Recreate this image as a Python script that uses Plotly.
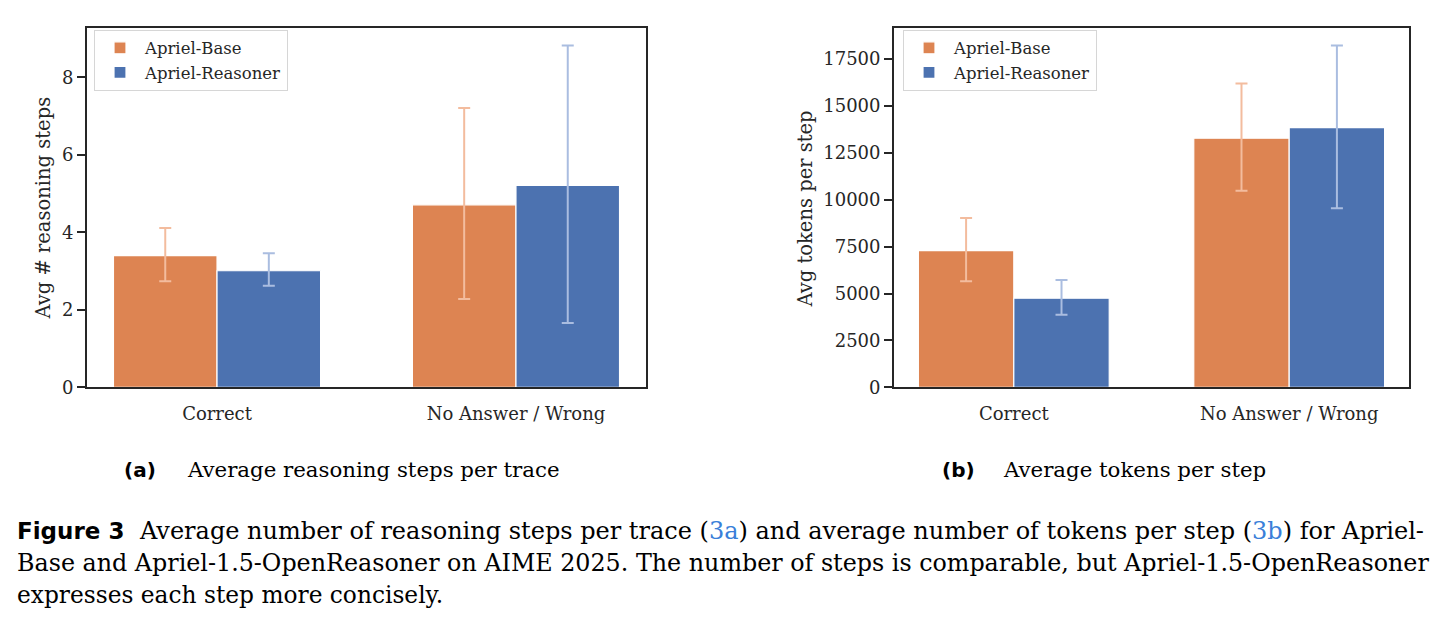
import plotly.graph_objects as go

categories = ["Correct", "No Answer / Wrong"]
series_names = ["Apriel-Base", "Apriel-Reasoner"]

# (a) Average reasoning steps per trace
base_steps = [3.40, 4.71]
base_steps_lo = [2.74, 2.28]
base_steps_hi = [4.11, 7.21]
reas_steps = [3.01, 5.21]
reas_steps_lo = [2.62, 1.66]
reas_steps_hi = [3.46, 8.82]

# (b) Average tokens per step
base_tok = [7280, 13270]
base_tok_lo = [5650, 10470]
base_tok_hi = [9020, 16180]
reas_tok = [4750, 13830]
reas_tok_lo = [3870, 9540]
reas_tok_hi = [5720, 18210]

steps_ticks = [0, 2, 4, 6, 8]
tok_ticks = [0, 2500, 5000, 7500, 10000, 12500, 15000, 17500]

ORANGE = "#dd8452"
BLUE = "#4c72b0"
ORANGE_ERR = "#f3bc9e"
BLUE_ERR = "#aabde0"
INK = "#262626"
SERIF = "DejaVu Serif"
W, H = 1447, 624


def px(x):
    return x / W


def py(y):
    y = (y + 3.8) / 0.99
    return 1 - y / H


def err(vals, lo, hi, color):
    return dict(type="data", symmetric=False,
                array=[h - v for v, h in zip(vals, hi)],
                arrayminus=[v - l for v, l in zip(vals, lo)],
                color=color, thickness=2, width=6)


fig = go.Figure()
specs = [
    ("x", "y", "legend", base_steps, base_steps_lo, base_steps_hi, reas_steps, reas_steps_lo, reas_steps_hi),
    ("x2", "y2", "legend2", base_tok, base_tok_lo, base_tok_hi, reas_tok, reas_tok_lo, reas_tok_hi),
]
for xa, ya, lg, bv, bl, bh, rv, rl, rh in specs:
    fig.add_trace(go.Bar(x=categories, y=bv, name=series_names[0], xaxis=xa, yaxis=ya, legend=lg,
                         marker=dict(color=ORANGE, line=dict(color="white", width=1.2)),
                         error_y=err(bv, bl, bh, ORANGE_ERR)))
    fig.add_trace(go.Bar(x=categories, y=rv, name=series_names[1], xaxis=xa, yaxis=ya, legend=lg,
                         marker=dict(color=BLUE, line=dict(color="white", width=1.2)),
                         error_y=err(rv, rl, rh, BLUE_ERR)))

common_x = dict(type="category", range=[-0.435, 1.435], showline=True, mirror=True,
                linecolor=INK, linewidth=1.8, ticks="outside", ticklen=9, tickcolor="rgba(0,0,0,0)",
                tickfont=dict(family=SERIF, size=18, color=INK), showgrid=False, zeroline=False,
                fixedrange=True)
common_y = dict(showline=True, mirror=True, linecolor=INK, linewidth=1.8, ticks="outside",
                ticklen=8, tickwidth=1.5, tickcolor=INK,
                tickfont=dict(family=SERIF, size=18, color=INK), showgrid=False, zeroline=False,
                tickmode="array", tickformat="d")

legend_common = dict(bgcolor="white", bordercolor="#d6d6d6", borderwidth=1,
                     font=dict(family=SERIF, size=16.5, color=INK), xanchor="left", yanchor="top",
                     orientation="v", itemwidth=40, tracegroupgap=0)

fig.update_layout(
    width=W, height=H,
    margin=dict(l=0, r=0, t=0, b=0),
    paper_bgcolor="white", plot_bgcolor="white",
    barmode="group", bargap=0.307, bargroupgap=0.0,
    showlegend=True,
    xaxis=dict(common_x, domain=[px(87), px(646)], anchor="y"),
    yaxis=dict(common_y, domain=[py(386), py(24)], range=[0, 9.28], tickvals=steps_ticks, anchor="x"),
    xaxis2=dict(common_x, domain=[px(894), px(1409)], anchor="y2"),
    yaxis2=dict(common_y, domain=[py(386), py(24)], range=[0, 19160], tickvals=tok_ticks, anchor="x2"),
    legend=dict(legend_common, x=px(94), y=py(26)),
    legend2=dict(legend_common, x=px(903), y=py(26)),
)

BLUE_LINK = "#3a7fd9"
annotations = [
    dict(text="Avg # reasoning steps", x=px(44), y=py(206), textangle=-90, xanchor="center",
         font=dict(family=SERIF, size=19.5, color=INK)),
    dict(text="Avg tokens per step", x=px(806), y=py(206), textangle=-90, xanchor="center",
         font=dict(family=SERIF, size=19.5, color=INK)),
    dict(text="<b>(a)</b>", x=px(122), y=py(469), xanchor="left",
         font=dict(family="DejaVu Sans", size=20, color="black")),
    dict(text="Average reasoning steps per trace", x=px(185), y=py(469), xanchor="left",
         font=dict(family=SERIF, size=21.3, color="black")),
    dict(text="<b>(b)</b>", x=px(940), y=py(469), xanchor="left",
         font=dict(family="DejaVu Sans", size=20, color="black")),
    dict(text="Average tokens per step", x=px(1001), y=py(469), xanchor="left",
         font=dict(family=SERIF, size=21.3, color="black")),
    dict(text="<b>Figure 3</b>", x=px(15), y=py(530), xanchor="left",
         font=dict(family="DejaVu Sans", size=23, color="black")),
    dict(text=f'Average number of reasoning steps per trace (<span style="color:{BLUE_LINK}">3a</span>) '
              f'and average number of tokens per step (<span style="color:{BLUE_LINK}">3b</span>) for Apriel-',
         x=px(137), y=py(530), xanchor="left",
         font=dict(family=SERIF, size=24, color="black")),
    dict(text="Base and Apriel-1.5-OpenReasoner on AIME 2025. The number of steps is comparable, "
              "but Apriel-1.5-OpenReasoner",
         x=px(15), y=py(563), xanchor="left",
         font=dict(family=SERIF, size=23.8, color="black")),
    dict(text="expresses each step more concisely.", x=px(15), y=py(594), xanchor="left",
         font=dict(family=SERIF, size=23.3, color="black")),
]
for a in annotations:
    a.update(xref="paper", yref="paper", showarrow=False, yanchor="middle")
    fig.add_annotation(**a)

fig.write_html("out.html")
